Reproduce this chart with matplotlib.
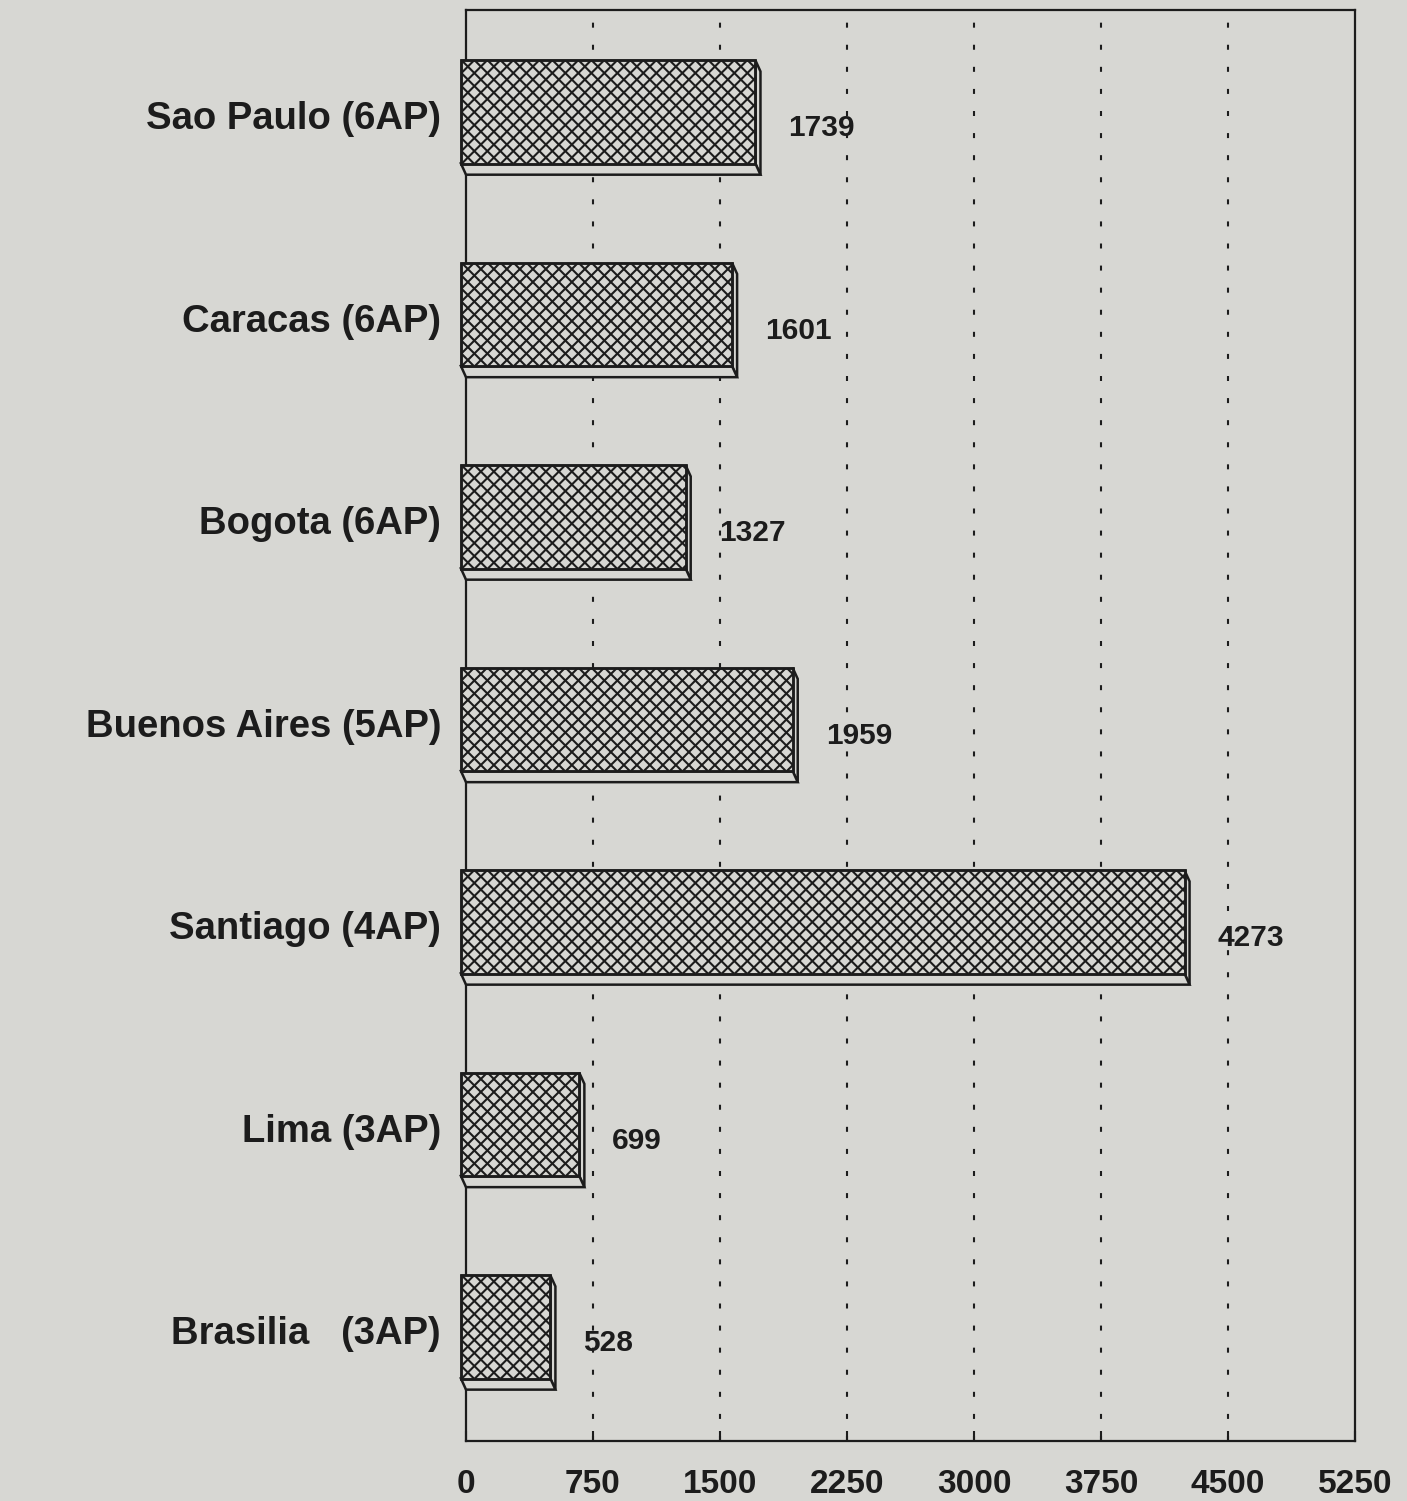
import numpy as np
import matplotlib.pyplot as plt
from matplotlib.patches import Polygon
from matplotlib.collections import LineCollection
from matplotlib.transforms import ScaledTranslation

cities = [
    "Sao Paulo (6AP)",
    "Caracas (6AP)",
    "Bogota (6AP)",
    "Buenos Aires (5AP)",
    "Santiago (4AP)",
    "Lima (3AP)",
    "Brasilia   (3AP)",
]
values = [1739, 1601, 1327, 1959, 4273, 699, 528]
xticks = [0, 750, 1500, 2250, 3000, 3750, 4500, 5250]

DPI = 100
W, H = 1407, 1501
BG = "#d7d7d3"
INK = "#1c1c1c"
DEPTH_PX = (5, 11)   # 3d extrusion toward lower right, in pixels
HATCH_PX = 13.0      # horizontal period of the cross hatch

plt.rcParams["font.family"] = ["Liberation Sans", "DejaVu Sans"]

fig = plt.figure(figsize=(W / DPI, H / DPI), dpi=DPI, facecolor=BG)
ax = fig.add_axes([466 / W, 60 / H, 889 / W, 1431 / H])
ax.set_facecolor(BG)
ax.set_xlim(0, 5250)
ax.set_ylim(6.563, -0.504)

# pixel offsets -> data offsets
x_per_px = 5250 / ax.bbox.width
y_per_px = (6.563 + 0.504) / ax.bbox.height
sx = DEPTH_PX[0] * x_per_px
sy = DEPTH_PX[1] * y_per_px

ypos = np.arange(len(cities))
bar_h = 0.51

# dotted guide lines behind the bars
for xv in xticks[1:-1]:
    ax.axvline(xv, color=INK, lw=1.5, linestyle=(0, (2.4, 8.2)), zorder=1)

# front faces
bars = ax.barh(ypos, values, height=bar_h, left=-sx, color=BG, edgecolor=INK,
               linewidth=1.8, zorder=4, clip_on=False)

for bar, y, v in zip(bars, ypos, values):
    top, bot = y - bar_h / 2, y + bar_h / 2

    # cross hatch at 45 degrees in pixel space, clipped to the front face
    hpx = bar_h / y_per_px
    x0 = -sx
    segs = []
    for c in np.arange(-hpx, v / x_per_px + hpx, HATCH_PX):
        xa = x0 + c * x_per_px
        xb = x0 + (c + hpx) * x_per_px
        segs.append([(xa, top), (xb, bot)])
        segs.append([(xa, bot), (xb, top)])
    hatch = LineCollection(segs, colors=INK, linewidths=1.5, zorder=4.5)
    ax.add_collection(hatch)
    hatch.set_clip_path(bar)

    # side and bottom faces of the extrusion
    right = Polygon([(v - sx, top), (v, top + sy), (v, bot + sy), (v - sx, bot)],
                    closed=True, facecolor=BG, edgecolor=INK, lw=1.8,
                    zorder=3, clip_on=False)
    under = Polygon([(-sx, bot), (v - sx, bot), (v, bot + sy), (0, bot + sy)],
                    closed=True, facecolor=BG, edgecolor=INK, lw=1.8,
                    zorder=3, clip_on=False)
    ax.add_patch(right)
    ax.add_patch(under)
    ax.annotate(str(v), (v, y), xytext=(28, -16), textcoords="offset pixels",
                ha="left", va="center", fontsize=21.5, fontweight="bold",
                color=INK, zorder=5)

# redraw front outline above the hatch
for bar in bars:
    outline = plt.Rectangle(bar.get_xy(), bar.get_width(), bar.get_height(),
                            fill=False, edgecolor=INK, lw=1.8, zorder=4.8,
                            clip_on=False)
    ax.add_patch(outline)

ax.set_yticks(ypos, cities)
ax.tick_params(axis="y", length=0, pad=18, labelsize=27.5, labelcolor=INK)
nudge = ScaledTranslation(0, -3 / DPI, fig.dpi_scale_trans)
for lab in ax.get_yticklabels():
    lab.set_fontweight("bold")
    lab.set_transform(lab.get_transform() + nudge)

ax.set_xticks(xticks, [str(t) for t in xticks])
ax.tick_params(axis="x", direction="in", length=7, width=1.5, color=INK,
               pad=20, labelsize=24, labelcolor=INK)
for lab in ax.get_xticklabels():
    lab.set_fontweight("bold")
    lab.set_family(["Liberation Sans Narrow", "Liberation Sans"])

for sp in ax.spines.values():
    sp.set_linewidth(1.6)
    sp.set_color(INK)

fig.savefig("out.png", dpi=DPI, facecolor=BG)
